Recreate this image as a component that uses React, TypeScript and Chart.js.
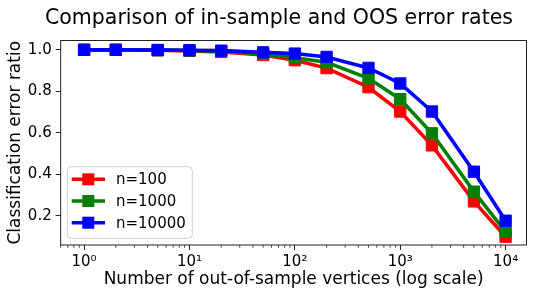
import React, { useEffect, useRef } from "react";
import { Chart, registerables } from "chart.js";

Chart.register(...registerables);

const xValues = [1, 2, 5, 10, 20, 50, 100, 200, 500, 1000, 2000, 5000, 10000];
const n100 = [1.0, 1.0, 0.998, 0.995, 0.99, 0.975, 0.95, 0.912, 0.82, 0.703, 0.54, 0.27, 0.10];
const n1000 = [1.0, 1.0, 0.999, 0.997, 0.993, 0.98, 0.962, 0.94, 0.863, 0.762, 0.598, 0.317, 0.123];
const n10000 = [1.0, 1.0, 0.999, 0.998, 0.996, 0.988, 0.982, 0.966, 0.913, 0.838, 0.703, 0.413, 0.177];
const seriesLabels = ["n=100", "n=1000", "n=10000"];
const seriesColors = ["#ff0000", "#008000", "#0000ff"];
const xTicks = [1, 10, 100, 1000, 10000];
const xTickLabels = ["10\u2070", "10\u00b9", "10\u00b2", "10\u00b3", "10\u2074"];
const yTicks = [0.2, 0.4, 0.6, 0.8, 1.0];
const titleText = "Comparison of in-sample and OOS error rates";
const xTitle = "Number of out-of-sample vertices (log scale)";
const yTitle = "Classification error ratio";

const FONT = "'DejaVu Sans', sans-serif";

export default function App() {
  const ref = useRef<HTMLCanvasElement | null>(null);
  useEffect(() => {
    if (!ref.current) return;
    const all = [n100, n1000, n10000];
    const datasets = all.map((vals, i) => ({
      label: seriesLabels[i],
      data: xValues.map((x, j) => ({ x, y: vals[j] })),
      borderColor: seriesColors[i],
      backgroundColor: seriesColors[i],
      pointBorderColor: seriesColors[i],
      pointBackgroundColor: seriesColors[i],
      borderWidth: 3.6,
      pointStyle: "rect",
      pointRadius: 8,
      pointBorderWidth: 1,
      order: 3 - i,
    }));

    const framePlugin = {
      id: "frame",
      afterDraw(chart: any) {
        const ctx = chart.ctx;
        const a = chart.chartArea;
        ctx.save();
        // title
        ctx.fillStyle = "#000";
        ctx.font = `20.5px ${FONT}`;
        ctx.textAlign = "center";
        ctx.textBaseline = "alphabetic";
        ctx.fillText(titleText, 279, 24);
        // frame
        ctx.strokeStyle = "#222";
        ctx.lineWidth = 1;
        ctx.strokeRect(a.left, a.top, a.right - a.left, a.bottom - a.top);
        // minor ticks
        const xs = chart.scales.x;
        ctx.lineWidth = 0.8;
        for (let d = -1; d <= 4; d++) {
          for (let m = 2; m <= 9; m++) {
            const v = m * Math.pow(10, d);
            if (v < xs.min || v > xs.max) continue;
            const px = xs.getPixelForValue(v);
            ctx.beginPath();
            ctx.moveTo(px, a.bottom);
            ctx.lineTo(px, a.bottom + 2.8);
            ctx.stroke();
          }
        }
        // legend
        const bx = a.left + 6.6;
        const bw = 125;
        const bh = 71.6;
        const by = a.bottom - 6.7 - bh;
        ctx.beginPath();
        (ctx as any).roundRect(bx, by, bw, bh, 4);
        ctx.fillStyle = "rgba(255,255,255,0.8)";
        ctx.fill();
        ctx.strokeStyle = "#d0d0d0";
        ctx.lineWidth = 1;
        ctx.stroke();
        chart.data.datasets.forEach((ds: any, i: number) => {
          const cy = by + 12.6 + i * 21.7;
          ctx.strokeStyle = ds.borderColor;
          ctx.lineWidth = 3.6;
          ctx.beginPath();
          ctx.moveTo(bx + 4.4, cy);
          ctx.lineTo(bx + 37.7, cy);
          ctx.stroke();
          ctx.fillStyle = ds.borderColor;
          ctx.fillRect(bx + 21 - 6, cy - 6, 12, 12);
          ctx.fillStyle = "#000";
          ctx.font = `15px ${FONT}`;
          ctx.textAlign = "left";
          ctx.textBaseline = "middle";
          ctx.fillText(ds.label, bx + 48.7, cy + 1);
        });
        ctx.restore();
      },
    };

    const chart = new Chart(ref.current, {
      type: "line",
      data: { datasets } as any,
      options: {
        animation: false,
        responsive: false,
        devicePixelRatio: 1,
        layout: { padding: { top: 40.5, right: 21.5, left: 0, bottom: 0 } },
        plugins: {
          legend: { display: false },
          title: { display: false },
          tooltip: { enabled: false },
        },
        scales: {
          x: {
            type: "logarithmic",
            min: 0.645,
            max: 15780,
            afterBuildTicks: (s: any) => {
              s.ticks = xTicks.map((v) => ({ value: v, major: true }));
            },
            afterFit: (s: any) => {
              s.height = 52;
            },
            ticks: {
              autoSkip: false,
              maxRotation: 0,
              color: "#000",
              font: { family: FONT, size: 15 },
              padding: 3,
              callback: (v: any) => {
                const k = xTicks.indexOf(Number(v));
                return k >= 0 ? xTickLabels[k] : "";
              },
            },
            grid: {
              drawOnChartArea: false,
              drawTicks: true,
              tickLength: 5,
              tickColor: "#222",
              tickWidth: 1,
            },
            border: { display: false },
            title: {
              display: true,
              text: xTitle,
              color: "#000",
              font: { family: FONT, size: 17 },
              padding: { top: 0, bottom: 7 },
            },
          },
          y: {
            type: "linear",
            min: 0.06,
            max: 1.045,
            afterBuildTicks: (s: any) => {
              s.ticks = yTicks.map((v) => ({ value: v }));
            },
            afterFit: (s: any) => {
              s.width = 60.7;
            },
            ticks: {
              color: "#000",
              font: { family: FONT, size: 15 },
              padding: 4,
              callback: (v: any) => Number(v).toFixed(1),
            },
            grid: {
              drawOnChartArea: false,
              drawTicks: true,
              tickLength: 5,
              tickColor: "#222",
              tickWidth: 1,
            },
            border: { display: false },
            title: {
              display: true,
              text: yTitle,
              color: "#000",
              font: { family: FONT, size: 17 },
              padding: { top: 5, bottom: 0 },
            },
          },
        },
      },
      plugins: [framePlugin],
    } as any);
    return () => chart.destroy();
  }, []);
  return (
    <div style={{ position: "absolute", left: 0, top: 0, width: 548, height: 297, background: "#fff" }}>
      <canvas ref={ref} width={548} height={297} style={{ width: 548, height: 297, display: "block" }} />
    </div>
  );
}
